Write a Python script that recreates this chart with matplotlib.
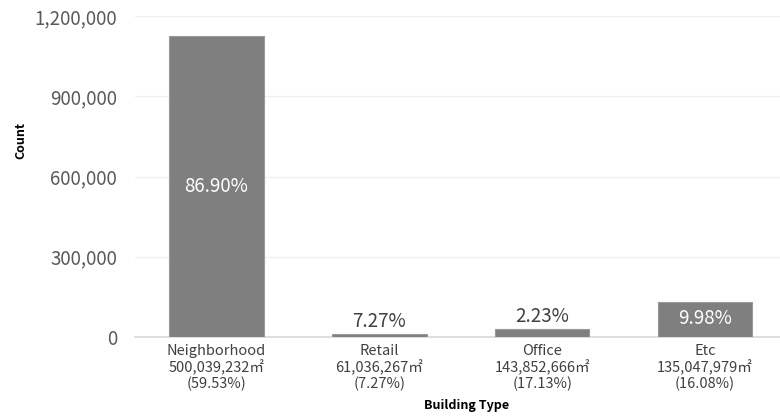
import matplotlib
matplotlib.use("Agg")
import matplotlib.pyplot as plt
from matplotlib.ticker import FuncFormatter

plt.rcParams['font.family'] = ['Noto Sans CJK KR', 'DejaVu Sans']

categories = ['Neighborhood', 'Retail', 'Office', 'Etc']
areas = ['500,039,232㎡', '61,036,267㎡', '143,852,666㎡', '135,047,979㎡']
area_shares = ['(59.53%)', '(7.27%)', '(17.13%)', '(16.08%)']
counts = [1126000, 11000, 28900, 129300]
count_shares = ['86.90%', '7.27%', '2.23%', '9.98%']
inside = [True, False, False, True]

fig = plt.figure(figsize=(7.8, 4.16), dpi=100)
ax = fig.add_axes([135 / 780, 1 - 337 / 416, 645 / 780, 321 / 416])

x = list(range(len(categories)))
ax.bar(x, counts, width=0.58, color='#7f7f7f', edgecolor='#9a9a9a', linewidth=0.8, zorder=3)

ax.set_xlim(-0.5, 3.46)
ax.set_ylim(0, 1200000)
ax.set_yticks([0, 300000, 600000, 900000, 1200000])
ax.yaxis.set_major_formatter(FuncFormatter(lambda v, p: f'{int(v):,}'))
ax.grid(axis='y', color='#efefef', linewidth=0.9, zorder=0)
for s in ['top', 'right', 'left']:
    ax.spines[s].set_visible(False)
ax.spines['bottom'].set_color('#d9d9d9')
ax.spines['bottom'].set_linewidth(1.2)
ax.tick_params(axis='y', length=0, pad=13, labelsize=13.5, labelcolor='#595959')
ax.tick_params(axis='x', length=0, pad=5, labelsize=10.5, labelcolor='#404040')
ax.set_xticks(x)
ax.set_xticklabels([f'{c}\n{a}\n{s}' for c, a, s in zip(categories, areas, area_shares)],
                   linespacing=1.15)

for i, (v, lab, ins) in enumerate(zip(counts, count_shares, inside)):
    if ins:
        y = v / 2 if v > 300000 else v - 60000
        ax.text(i, y, lab, ha='center', va='center', color='white', fontsize=13.5, zorder=4)
    else:
        ax.text(i, v + 8000, lab, ha='center', va='bottom', color='#404040', fontsize=13.5, zorder=4)

fig.text(21 / 780, 1 - 140 / 416, 'Count', rotation=90, ha='center', va='center',
         fontsize=9, fontweight='bold', color='black')
fig.text(467 / 780, 1 - 406 / 416, 'Building Type', ha='center', va='center',
         fontsize=9, fontweight='bold', color='black')

fig.savefig('out.png', dpi=100)
